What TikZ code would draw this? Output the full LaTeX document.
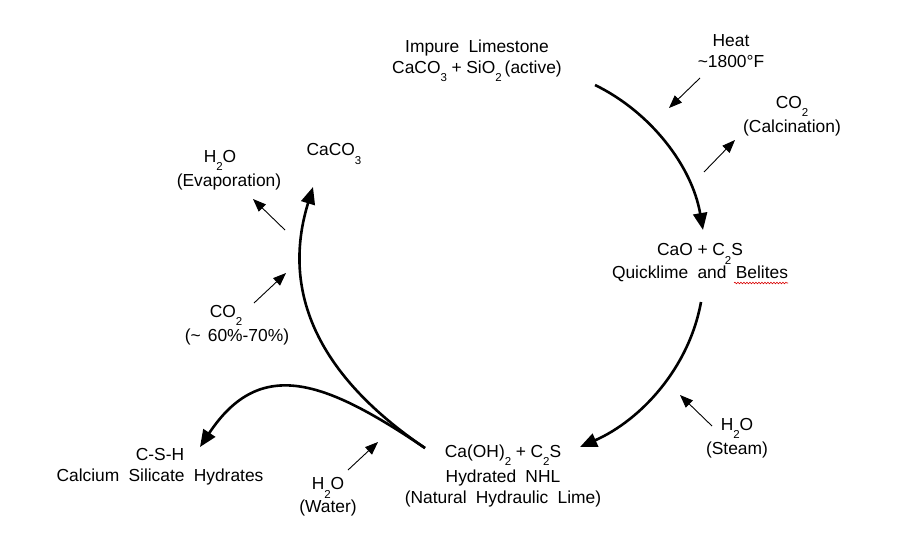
\documentclass[tikz,border=0pt]{standalone}
\usepackage{fontspec}
\setmainfont[WordSpace=1.9]{Liberation Sans}
\usetikzlibrary{arrows.meta,decorations.pathmorphing}
\newcommand\sbs[1]{\raisebox{-0.9ex}{\fontsize{11.5}{11.5}\selectfont #1}}
\newcommand\plus{\hspace{4.6pt}+\hspace{4.6pt}}
\begin{document}
\begin{tikzpicture}[x=1pt,y=-1pt,
  lbl/.style={align=center,font=\fontsize{17.4}{21}\selectfont,inner sep=0pt},
  mainarrow/.style={line width=2.6pt,-{Triangle[length=17pt,width=14pt]}},
  minorarrow/.style={line width=0.9pt,-{Triangle[length=13pt,width=10pt]}}]
\fill[white] (0,0) rectangle (900,550);
\useasboundingbox (0,0) rectangle (900,550);

% labels
\node[lbl] (lime) at (477,61) {Impure Limestone\\CaCO\sbs3\plus SiO\sbs2\hspace{3pt}(active)};
\node[lbl] (heat) at (731,51) {Heat\\\textasciitilde1800°F};
\node[lbl] (calc) at (792,116) {CO\sbs2\\[3pt](Calcination)};
\node[lbl] (cao) at (700,263) {CaO\plus C\sbs2S\\[2pt]Quicklime and Belites};
\node[lbl] (steam) at (737,438) {H\sbs2O\\[3pt](Steam)};
\node[lbl] (nhl) at (503,476) {Ca(OH)\sbs2\plus C\sbs2S\\[4pt]Hydrated NHL\\(Natural Hydraulic Lime)};
\node[lbl] (water) at (328,497) {H\sbs2O\\[2pt](Water)};
\node[lbl] (csh) at (160,467) {C-S-H\\Calcium Silicate Hydrates};
\node[lbl] (caco) at (334,154) {CaCO\sbs3};
\node[lbl] (evap) at (229,170) {H\sbs2O\hspace*{18pt}\\[3pt](Evaporation)};
\node[lbl] (co2b) at (237,325) {CO\sbs2\hspace*{22pt}\\[3pt](\textasciitilde\hspace{7pt}60\%-70\%)};

% spell-check underline
\draw[red!85!black,line width=0.6pt,decorate,decoration={snake,amplitude=0.8pt,segment length=3pt}] (734,283) -- (788,283);

% cycle coordinates
\coordinate (a1s) at (595,85);
\coordinate (a1e) at (703,230);
\coordinate (a2s) at (701,302);
\coordinate (a2e) at (580,447);
\coordinate (a3s) at (425,448);
\coordinate (a3e) at (313,187);
\coordinate (a4e) at (200,447);

\draw[mainarrow] (a1s) .. controls (650.5,112) and (692,166) .. (a1e);
\draw[mainarrow] (a2s) .. controls (689,368) and (641,420) .. (a2e);
\draw[mainarrow] (a3s) .. controls (342,392) and (274.8,311) .. (a3e);
\draw[mainarrow] (a3s) .. controls (325.4,380.8) and (260.5,355.7) .. (a4e);

% minor arrows
\coordinate (h1) at (700,78);   \coordinate (h2) at (669,108);
\coordinate (c1) at (704,172);  \coordinate (c2) at (735,140);
\coordinate (s1) at (712,426);  \coordinate (s2) at (680,395);
\coordinate (w1) at (348,470);  \coordinate (w2) at (378,442);
\coordinate (g1) at (254,303);  \coordinate (g2) at (286,273);
\coordinate (e1) at (285,230);  \coordinate (e2) at (253,199);
\draw[minorarrow] (h1) -- (h2);
\draw[minorarrow] (c1) -- (c2);
\draw[minorarrow] (s1) -- (s2);
\draw[minorarrow] (w1) -- (w2);
\draw[minorarrow] (g1) -- (g2);
\draw[minorarrow] (e1) -- (e2);
\end{tikzpicture}
\end{document}
